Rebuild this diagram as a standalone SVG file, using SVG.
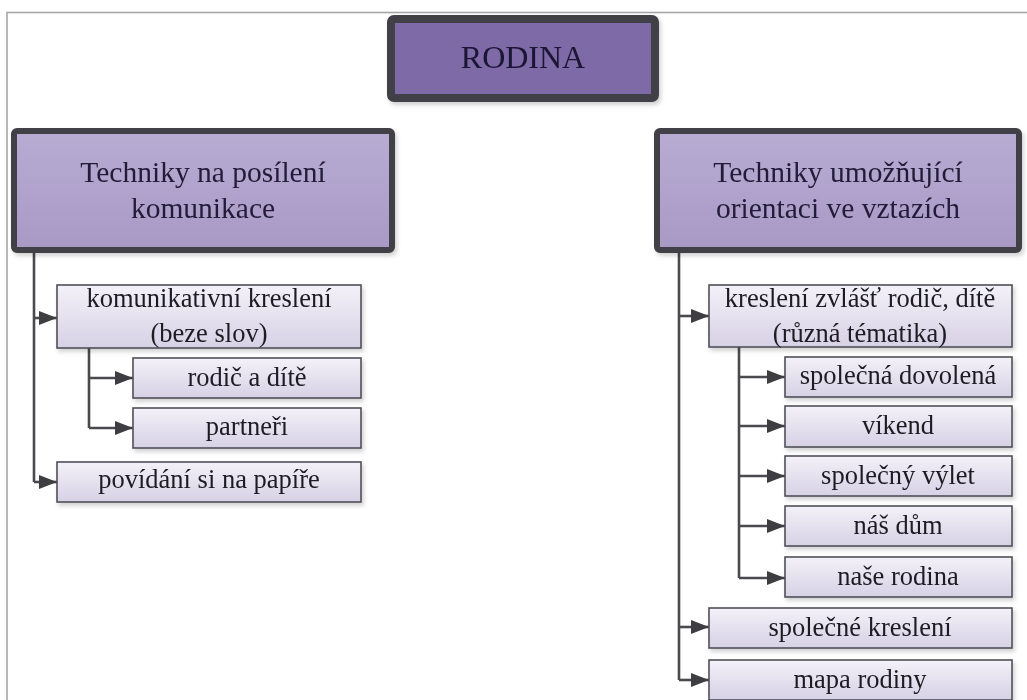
<svg xmlns="http://www.w3.org/2000/svg" width="1027" height="700" viewBox="0 0 1027 700">
<defs>
<style>
.frame{fill:none;stroke:#a6a6a6;stroke-width:1.6}
.top{fill:#7d6aa6;stroke:#424146;stroke-width:8}
.head{fill:url(#gh);stroke:#424146;stroke-width:6}
.leaf{fill:url(#gl);stroke:#505058;stroke-width:1.6}
.conn{fill:none;stroke:#4a4a4e;stroke-width:2.6}
.th{font-family:"Liberation Serif","Times New Roman",serif;font-size:29.5px;fill:#231c38;text-anchor:middle}
.tr{font-family:"Liberation Serif","Times New Roman",serif;font-size:32px;fill:#1e1436;text-anchor:middle}
.tl{font-family:"Liberation Serif","Times New Roman",serif;font-size:26.5px;fill:#1c1c24;text-anchor:middle}
</style>
<linearGradient id="gh" x1="0" y1="0" x2="0" y2="1">
<stop offset="0" stop-color="#b8acd3"/>
<stop offset="1" stop-color="#a899c5"/>
</linearGradient>
<linearGradient id="gl" x1="0" y1="0" x2="0" y2="1">
<stop offset="0" stop-color="#f3f1f8"/>
<stop offset="1" stop-color="#d7d1e5"/>
</linearGradient>
<filter id="sh" x="-5%" y="-10%" width="115%" height="130%">
<feDropShadow dx="2" dy="3" stdDeviation="2" flood-color="#000" flood-opacity="0.18"/>
</filter>
<marker id="ah" viewBox="0 0 18 14" refX="18" refY="7" markerWidth="18" markerHeight="14" markerUnits="userSpaceOnUse" orient="auto">
<path d="M0,0 L18,7 L0,14 z" fill="#3e3e42"/>
</marker>
</defs>

<rect class="frame" x="7" y="12.5" width="1040" height="720"/>

<g id="connectors">
<path class="conn" d="M34,253 V482"/>
<path class="conn" d="M34,318 H57" marker-end="url(#ah)"/>
<path class="conn" d="M34,482 H57" marker-end="url(#ah)"/>
<path class="conn" d="M89,348 V428"/>
<path class="conn" d="M89,378 H133" marker-end="url(#ah)"/>
<path class="conn" d="M89,428 H133" marker-end="url(#ah)"/>
<path class="conn" d="M679,253 V680"/>
<path class="conn" d="M679,316 H709" marker-end="url(#ah)"/>
<path class="conn" d="M679,627 H709" marker-end="url(#ah)"/>
<path class="conn" d="M679,680 H709" marker-end="url(#ah)"/>
<path class="conn" d="M739,347 V578"/>
<path class="conn" d="M739,377 H785" marker-end="url(#ah)"/>
<path class="conn" d="M739,426 H785" marker-end="url(#ah)"/>
<path class="conn" d="M739,476 H785" marker-end="url(#ah)"/>
<path class="conn" d="M739,526 H785" marker-end="url(#ah)"/>
<path class="conn" d="M739,578 H785" marker-end="url(#ah)"/>
</g>

<g id="rodina" filter="url(#sh)">
<rect class="top" x="391" y="19" width="264" height="79" rx="3"/>
<text class="tr" x="523" y="68">RODINA</text>
</g>

<g id="techniky-komunikace" filter="url(#sh)">
<rect class="head" x="14" y="131" width="378" height="119" rx="3"/>
<text class="th" x="203" y="182">Techniky na posílení</text>
<text class="th" x="203" y="218">komunikace</text>
</g>

<g id="techniky-orientace" filter="url(#sh)">
<rect class="head" x="657" y="131" width="362" height="119" rx="3"/>
<text class="th" x="838" y="182">Techniky umožňující</text>
<text class="th" x="838" y="218">orientaci ve vztazích</text>
</g>

<g id="komunikativni" filter="url(#sh)">
<rect class="leaf" x="57" y="285" width="304" height="63"/>
<text class="tl" x="209" y="307">komunikativní kreslení</text>
<text class="tl" x="209" y="342">(beze slov)</text>
</g>
<g id="rodic-a-dite" filter="url(#sh)">
<rect class="leaf" x="133" y="358" width="228" height="40"/>
<text class="tl" x="247" y="386">rodič a dítě</text>
</g>
<g id="partneri" filter="url(#sh)">
<rect class="leaf" x="133" y="408" width="228" height="40"/>
<text class="tl" x="247" y="435">partneři</text>
</g>
<g id="povidani" filter="url(#sh)">
<rect class="leaf" x="57" y="462" width="304" height="40"/>
<text class="tl" x="209" y="488">povídání si na papíře</text>
</g>

<g id="kresleni-zvlast" filter="url(#sh)">
<rect class="leaf" x="709" y="285" width="303" height="62"/>
<text class="tl" x="860" y="307">kreslení zvlášť rodič, dítě</text>
<text class="tl" x="860" y="342">(různá tématika)</text>
</g>
<g id="spolecna-dovolena" filter="url(#sh)">
<rect class="leaf" x="785" y="357" width="227" height="40"/>
<text class="tl" x="898" y="384">společná dovolená</text>
</g>
<g id="vikend" filter="url(#sh)">
<rect class="leaf" x="785" y="406" width="227" height="41"/>
<text class="tl" x="898" y="434">víkend</text>
</g>
<g id="spolecny-vylet" filter="url(#sh)">
<rect class="leaf" x="785" y="456" width="227" height="40"/>
<text class="tl" x="898" y="484">společný výlet</text>
</g>
<g id="nas-dum" filter="url(#sh)">
<rect class="leaf" x="785" y="506" width="227" height="40"/>
<text class="tl" x="898" y="534">náš dům</text>
</g>
<g id="nase-rodina" filter="url(#sh)">
<rect class="leaf" x="785" y="557" width="227" height="40"/>
<text class="tl" x="898" y="585">naše rodina</text>
</g>
<g id="spolecne-kresleni" filter="url(#sh)">
<rect class="leaf" x="709" y="608" width="303" height="40"/>
<text class="tl" x="860" y="636">společné kreslení</text>
</g>
<g id="mapa-rodiny" filter="url(#sh)">
<rect class="leaf" x="709" y="660" width="303" height="40"/>
<text class="tl" x="860" y="688">mapa rodiny</text>
</g>
</svg>
